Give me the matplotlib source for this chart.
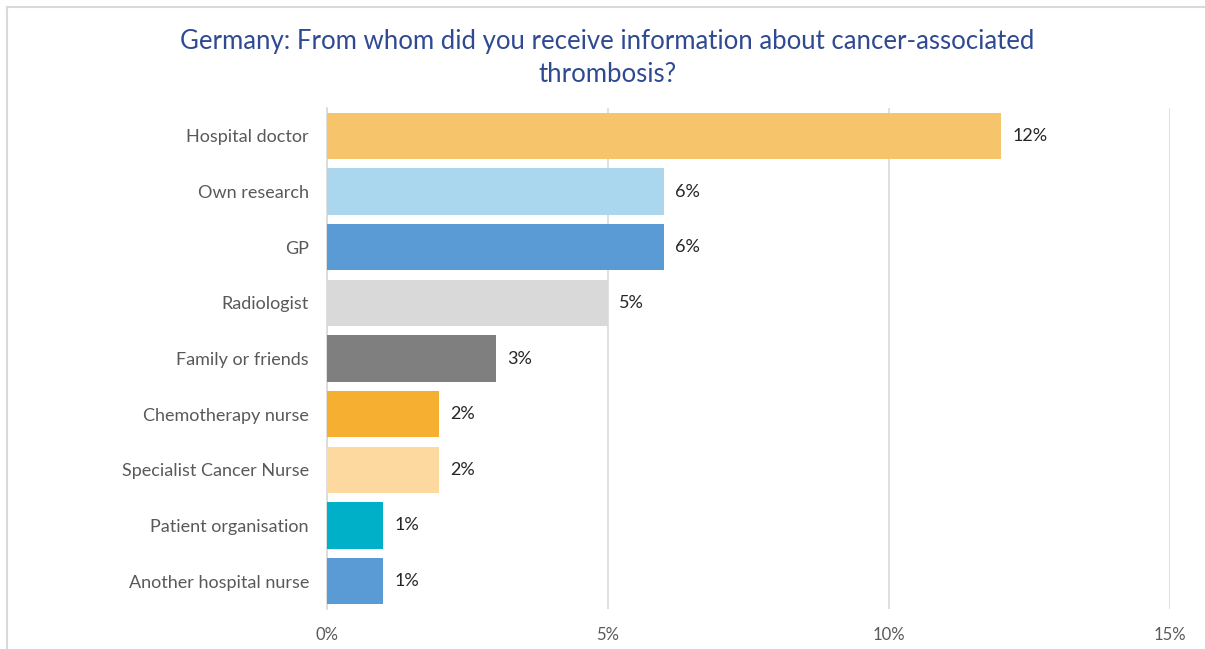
import matplotlib
matplotlib.use("Agg")
import matplotlib.pyplot as plt
from matplotlib.lines import Line2D

# Data (top to bottom as shown)
categories = ["Hospital doctor", "Own research", "GP", "Radiologist", "Family or friends",
              "Chemotherapy nurse", "Specialist Cancer Nurse", "Patient organisation",
              "Another hospital nurse"]
values = [12, 6, 6, 5, 3, 2, 2, 1, 1]
colors = ["#F6C46B", "#ABD7EE", "#5B9BD5", "#D9D9D9", "#7F7F7F",
          "#F7AF31", "#FDD9A0", "#00B0C8", "#5B9BD5"]
xticks = [0, 5, 10, 15]

plt.rcParams['font.family'] = ['Lato', 'DejaVu Sans']

fig = plt.figure(figsize=(12.05, 6.49), dpi=100)
ax = fig.add_axes([327 / 1205, 40 / 649, (1170 - 327) / 1205, 501 / 649])

ypos = list(range(len(categories)))
ax.barh(ypos, values, height=0.83, color=colors, zorder=3)
for y, v in zip(ypos, values):
    ax.text(v + 0.2, y, f"{v}%", va="center", ha="left", fontsize=13, color="#262626")

ax.set_ylim(len(categories) - 0.5, -0.5)
ax.set_xlim(0, 15)
ax.set_yticks(ypos)
ax.set_yticklabels(categories, fontsize=13, color="#595959")
ax.set_xticks(xticks)
ax.set_xticklabels([f"{t}%" for t in xticks], fontsize=12, color="#595959")
ax.tick_params(axis="both", length=0)
ax.tick_params(axis="y", pad=13)
ax.tick_params(axis="x", pad=13)
ax.grid(axis="x", color="#D9D9D9", linewidth=1.2, zorder=0)
for s in ["top", "right", "bottom"]:
    ax.spines[s].set_visible(False)
ax.spines["left"].set_color("#D9D9D9")
ax.spines["left"].set_linewidth(1.2)

fig.text(0.504, 0.910, "Germany: From whom did you receive information about cancer-associated\nthrombosis?",
         ha="center", va="center", fontsize=18.5, color="#2F4A92", linespacing=1.4)

# outer frame (left and top edges visible)
fig.add_artist(Line2D([6.5 / 1205, 6.5 / 1205], [0, 1 - 7 / 649], transform=fig.transFigure,
                      color="#D9D9D9", linewidth=1.5))
fig.add_artist(Line2D([6.5 / 1205, 1], [1 - 7 / 649, 1 - 7 / 649], transform=fig.transFigure,
                      color="#D9D9D9", linewidth=1.5))

fig.savefig("out.png", dpi=100)
